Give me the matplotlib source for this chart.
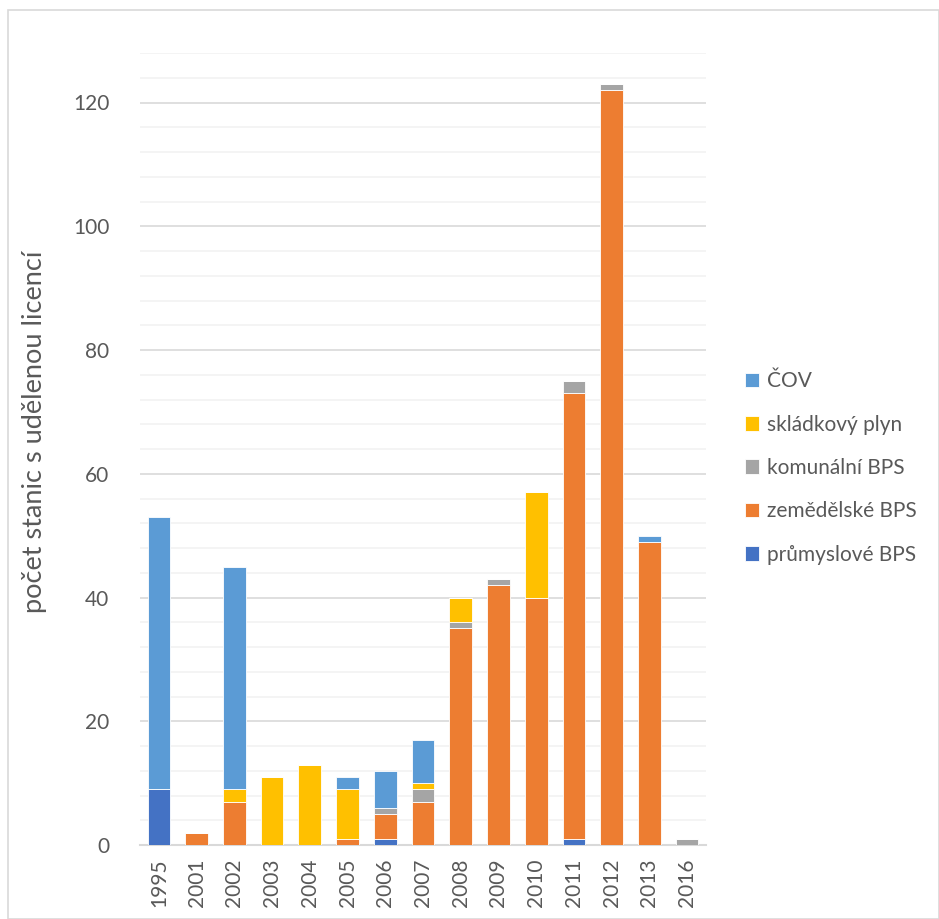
import matplotlib
matplotlib.use("Agg")
import matplotlib.pyplot as plt
import numpy as np
from matplotlib.patches import Rectangle

plt.rcParams["font.family"] = ["Lato", "DejaVu Sans"]

years = ["1995", "2001", "2002", "2003", "2004", "2005", "2006", "2007",
         "2008", "2009", "2010", "2011", "2012", "2013", "2016"]

prumyslove = [9, 0, 0, 0, 0, 0, 1, 0, 0, 0, 0, 1, 0, 0, 0]
zemedelske = [0, 2, 7, 0, 0, 1, 4, 7, 35, 42, 40, 72, 122, 49, 0]
komunalni = [0, 0, 0, 0, 0, 0, 1, 2, 1, 1, 0, 2, 1, 0, 1]
skladkovy = [0, 0, 2, 11, 13, 8, 0, 1, 4, 0, 17, 0, 0, 0, 0]
cov = [44, 0, 36, 0, 0, 2, 6, 7, 0, 0, 0, 0, 0, 1, 0]

series = [
    ("průmyslové BPS", prumyslove, "#4472C4"),
    ("zemědělské BPS", zemedelske, "#ED7D31"),
    ("komunální BPS", komunalni, "#A5A5A5"),
    ("skládkový plyn", skladkovy, "#FFC000"),
    ("ČOV", cov, "#5B9BD5"),
]

W, H = 939, 919
fig = plt.figure(figsize=(W / 100, H / 100), dpi=100)
ax = fig.add_axes([140 / W, 1 - 845 / H, (706 - 140) / W, (845 - 53) / H])

# outer chart frame like the Excel chart area
fig.patches.append(Rectangle((8 / W, 0), (W - 8) / W, 1 - 10 / H, transform=fig.transFigure,
                             fill=False, edgecolor="#D9D9D9", linewidth=1.2))

x = np.arange(len(years))
bottom = np.zeros(len(years))
handles = []
for name, vals, color in series:
    v = np.array(vals, dtype=float)
    b = ax.bar(x, v, 0.6, bottom=bottom, color=color, edgecolor="white",
               linewidth=0.6, label=name, zorder=3)
    bottom += v
    handles.append(b)

ax.set_xlim(-0.5, len(years) - 0.5)
ax.set_ylim(0, 128)
ax.set_yticks(range(0, 121, 20))
ax.set_yticks(range(0, 129, 4), minor=True)
ax.grid(axis="y", which="minor", color="#F2F2F2", linewidth=1.2, zorder=0)
ax.grid(axis="y", which="major", color="#D9D9D9", linewidth=1.2, zorder=1)
ax.tick_params(axis="both", which="both", length=0, colors="#595959", labelsize=15)
ax.tick_params(axis="y", pad=22)
ax.tick_params(axis="x", pad=10)
ax.set_xticks(x)
ax.set_xticklabels(years, rotation=90)
for s in ["top", "right", "left"]:
    ax.spines[s].set_visible(False)
ax.spines["bottom"].set_color("#D9D9D9")
ax.spines["bottom"].set_linewidth(1.5)

ax.set_ylabel("počet stanic s udělenou licencí", fontsize=19.5, color="#595959")
ax.yaxis.set_label_coords(-0.165, 0.522)

leg = ax.legend(handles[::-1], [s[0] for s in series][::-1], loc="center left",
                bbox_to_anchor=(1.035, 0.476), frameon=False, fontsize=15,
                handlelength=0.7, handleheight=0.7, handletextpad=0.4,
                labelspacing=1.12, labelcolor="#595959")

fig.savefig("out.png", dpi=100)
